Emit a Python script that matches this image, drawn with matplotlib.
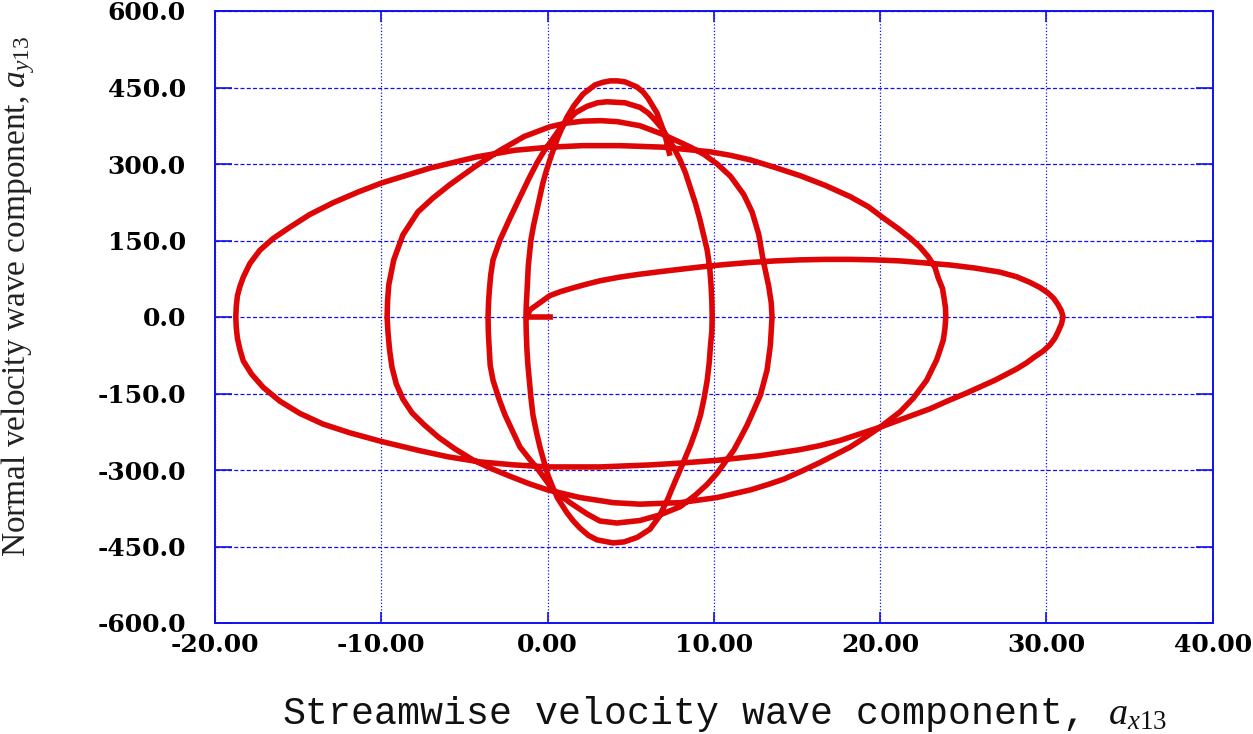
import matplotlib
matplotlib.use("Agg")
import matplotlib.pyplot as plt
from matplotlib.ticker import FixedLocator, FormatStrFormatter

plt.rcParams['axes.unicode_minus'] = False
plt.rcParams['mathtext.fontset'] = 'custom'
plt.rcParams['mathtext.rm'] = 'Liberation Serif'
plt.rcParams['mathtext.it'] = 'Liberation Serif:italic'

# ---------------- data ----------------
x_ticks = [-20, -10, 0, 10, 20, 30, 40]
y_ticks = [-600, -450, -300, -150, 0, 150, 300, 450, 600]

x_label = "Streamwise velocity wave component, $a_{x13}$"
y_label = "Normal velocity wave component, $a_{y13}$"

# trajectory (a_x13, a_y13), one loop-half per line
x_vals = [
    # start + first upper branch
    0.32, -1.24, -1.06, -0.46, 0.14, 0.8, 1.53, 2.3, 3.15, 4.3, 5.56, 7.3, 9.16, 10.7, 12.2, 13.7, 15.2, 16.7, 18.2,
    19.7, 21.2, 22.7, 24.2, 25.7, 27.2, 28.2, 29.0, 29.6, 30.1, 30.45, 30.7, 30.9, 31.0,
    # first lower half
    30.9, 30.7, 30.5, 30.2, 29.8, 29.3, 28.8, 28.2, 26.9, 25.2, 24.1, 23.0, 21.5, 20.0, 18.8, 17.6, 16.4, 15.2, 12.8,
    10.2, 8.2, 6.2, 3.15, 0.0, -2.0, -4.1, -6.0, -7.7, -10.0, -11.9, -13.5, -14.9, -16.1, -17.1, -17.8, -18.3, -18.5,
    -18.65, -18.72, -18.75,
    # second upper half
    -18.72, -18.65, -18.5, -18.3, -17.9, -17.3, -16.5, -15.5, -14.3, -12.9, -11.4, -9.96, -7.07, -4.25, -1.96, 0.14,
    2.13, 4.35, 6.94, 9.77, 11.0, 12.2, 13.7, 15.2, 16.7, 18.2, 19.3, 20.2, 21.1, 21.8, 22.4, 22.9, 23.3, 23.5, 23.75,
    23.85, 23.93, 23.95,
    # second lower half
    23.9, 23.8, 23.6, 23.4, 23.1, 22.8, 22.0, 21.2, 20.0, 19.1, 18.2, 17.3, 16.4, 15.3, 14.2, 13.2, 12.2, 10.2, 7.97,
    5.56, 3.94, 1.95, 0.0, -1.1, -2.2, -3.4, -4.5, -5.6, -6.55, -7.4, -8.15, -8.7, -9.1, -9.36, -9.5, -9.6, -9.65,
    # third upper half
    -9.62, -9.55, -9.25, -8.7, -7.8, -6.9, -5.9, -4.4, -2.9, -1.4, 0.14, 1.1, 2.13, 3.2, 4.2, 5.56, 6.94, 8.6, 9.4,
    10.2, 11.0, 11.8, 12.3, 12.7, 12.95, 13.3, 13.45, 13.5,
    # third lower half
    13.45, 13.4, 13.2, 12.8, 12.4, 12.0, 11.6, 11.2, 10.2, 9.6, 8.9, 7.97, 6.76, 5.56, 4.17, 3.15, 2.37, 1.35, 0.32,
    -0.55, -1.1, -1.66, -2.1, -2.56, -2.95, -3.28, -3.45, -3.5, -3.56, -3.58,
    # fourth upper half
    -3.55, -3.5, -3.42, -3.28, -2.86, -2.26, -1.54, -1.1, -0.64, -0.2, 0.26, 0.7, 1.17, 1.7, 2.37, 3.0, 3.57, 4.66,
    5.56, 6.05, 6.46, 6.85, 7.2, 7.6, 7.97, 8.3, 8.57, 8.9, 9.17, 9.6, 9.75, 9.83, 9.88, 9.9,
    # fourth lower half
    9.88, 9.8, 9.72, 9.6, 9.42, 9.2, 8.92, 8.6, 8.15, 7.7, 7.2, 6.7, 6.16, 5.4, 4.6, 3.94, 2.97, 2.45, 1.95, 1.55,
    1.17, 0.6, 0.3, 0.02, -0.22, -0.46, -0.68, -0.88, -1.0, -1.1, -1.18, -1.24, -1.28, -1.3,
    # last upper half (end)
    -1.28, -1.24, -1.16, -1.0, -0.84, -0.64, -0.46, -0.28, -0.08, 0.14, 0.38, 0.63, 0.9, 1.17, 1.6, 2.13, 2.85, 3.3,
    3.76, 4.2, 4.66, 5.38, 5.75, 6.04, 6.58, 6.82, 7.06, 7.36,
]
y_vals = [
    # start + first upper branch
    0, 0, 14, 28, 42, 50, 57, 64, 71, 78, 84, 91, 98, 103, 107, 110, 112, 113, 113,
    112, 110, 106, 102, 96, 88, 79, 68, 58, 47, 36, 24, 12, 0,
    # first lower half
    -14, -29, -42, -55, -67, -78, -90, -102, -124, -149, -164, -180, -198, -216, -229, -242, -252, -260, -272,
    -281, -286, -290, -294, -294, -290, -284, -274, -262, -244, -227, -210, -189, -165, -138, -112, -86, -64,
    -42, -21, 0,
    # second upper half
    21, 42, 60, 78, 105, 131, 154, 176, 201, 224, 245, 263, 292, 314, 327, 333,
    336, 336, 333, 324, 317, 308, 293, 277, 258, 236, 216, 194, 173, 155, 137, 118, 97, 76, 56,
    36, 18, 0,
    # second lower half
    -22, -45, -65, -84, -104, -124, -159, -186, -216, -236, -255, -270, -285, -302, -318, -329, -339, -354, -364,
    -367, -364, -354, -339, -327, -313, -297, -280, -258, -236, -212, -188, -161, -131, -98, -65, -29, 0,
    # third upper half
    32, 63, 112, 161, 206, 233, 259, 294, 326, 354, 373, 380, 384, 385, 383, 375, 358, 333, 319,
    300, 276, 240, 206, 162, 114, 60, 28, 0,
    # third lower half
    -28, -55, -104, -153, -183, -212, -237, -261, -306, -328, -349, -372, -388, -399, -404, -400, -386, -364, -339,
    -300, -278, -255, -224, -192, -158, -124, -95, -65, -32, 0,
    # fourth upper half
    28, 53, 82, 112, 151, 194, 243, 273, 302, 326, 347, 367, 384, 401, 413, 420, 422, 420,
    411, 400, 386, 371, 353, 331, 308, 282, 255, 222, 190, 131, 97, 63, 30, 0,
    # fourth lower half
    -28, -55, -90, -124, -158, -192, -222, -251, -286, -320, -359, -392, -416, -432, -441, -443, -437, -428, -414, -400,
    -384, -355, -333, -310, -283, -255, -224, -192, -158, -124, -95, -65, -32, 0,
    # last upper half (end)
    23, 47, 100, 151, 180, 210, 237, 263, 286, 308, 331, 353, 373, 392, 415, 437, 455, 460,
    463, 463, 461, 451, 441, 429, 400, 379, 357, 316,
]

# ---------------- figure ----------------
W, H = 1253, 734
fig = plt.figure(figsize=(W / 100, H / 100), dpi=100)
left, right, top, bottom = 215, 1212.7, 11, 623
ax = fig.add_axes([left / W, 1 - bottom / H, (right - left) / W, (bottom - top) / H])
ax.set_xlim(-20, 40)
ax.set_ylim(-600, 600)

blue = '#1010f0'
ax.xaxis.set_major_locator(FixedLocator(x_ticks))
ax.yaxis.set_major_locator(FixedLocator(y_ticks))
ax.xaxis.set_major_formatter(FormatStrFormatter('%.2f'))
ax.yaxis.set_major_formatter(FormatStrFormatter('%.1f'))

ax.grid(True, axis='x', color=blue, lw=0.9, ls=(0, (1.0, 1.6)), zorder=1)
ax.grid(True, axis='y', color=blue, lw=0.9, ls=(0, (3.2, 1.8)), zorder=1)
ax.set_axisbelow(True)

for s in ax.spines.values():
    s.set_color(blue)
    s.set_linewidth(1.4)

ax.tick_params(axis='y', which='major', direction='in', length=12, width=1.2, color=blue,
               left=True, right=True, pad=21)
ax.tick_params(axis='x', which='major', direction='in', length=8, width=1.2, color=blue,
               top=True, bottom=True, pad=7)
for lab in ax.get_xticklabels():
    lab.set_fontfamily('DejaVu Serif')
    lab.set_fontweight('bold')
    lab.set_fontsize(18)
for lab in ax.get_yticklabels():
    lab.set_fontfamily('DejaVu Serif')
    lab.set_fontweight('bold')
    lab.set_fontsize(18)

ax.plot(x_vals, y_vals, color='#dd0505', lw=4.0, solid_capstyle='butt',
        solid_joinstyle='round', zorder=3)

fig.text(725 / W, 1 - 724 / H, x_label, family='Liberation Mono', fontsize=27.5,
         ha='center', va='baseline', color='#111111')
fig.text(18 / W, 1 - 296 / H, y_label, family='Liberation Serif', fontsize=24,
         rotation=90, ha='center', va='center', color='#222222')

fig.savefig('out.png', dpi=100)
